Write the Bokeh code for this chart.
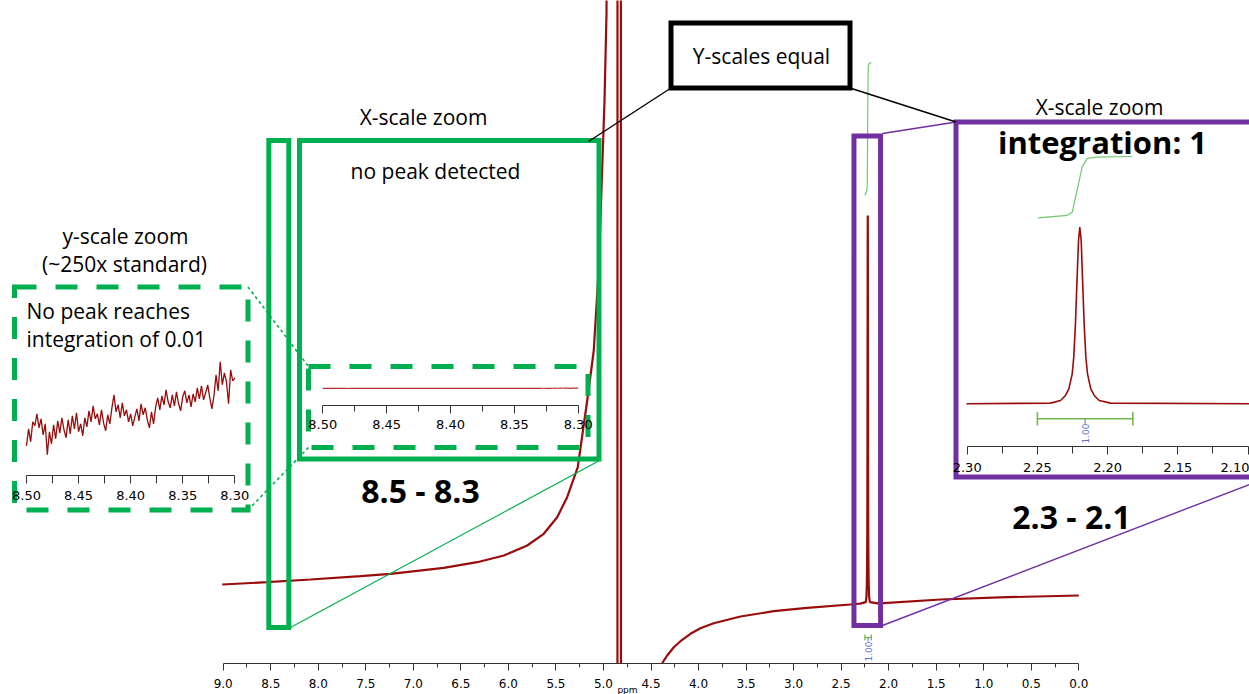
import numpy as np
from bokeh.plotting import figure
from bokeh.models import Range1d, LinearAxis, FixedTicker, PrintfTickFormatter
from bokeh.core.properties import value
from bokeh.embed import file_html
from bokeh.resources import INLINE

# ---------------- data ----------------
main_ticks = [9.0, 8.5, 8.0, 7.5, 7.0, 6.5, 6.0, 5.5, 5.0, 4.5, 4.0, 3.5, 3.0, 2.5, 2.0, 1.5, 1.0, 0.5, 0.0]
main_minor = [8.75, 8.25, 7.75, 7.25, 6.75, 6.25, 5.75, 5.25, 4.75, 4.25, 3.75, 3.25, 2.75, 2.25, 1.75, 1.25, 0.75, 0.25]
zoom_ticks = [8.50, 8.45, 8.40, 8.35, 8.30]
zoom_minor = [8.475, 8.425, 8.375, 8.325]
peak_ticks = [2.30, 2.25, 2.20, 2.15, 2.10]
peak_minor = [2.275, 2.225, 2.175, 2.125]

# main 1H spectrum (ppm, intensity relative to the 2.22 ppm singlet)
tail_left_ppm = [9.0105, 8.537, 8.082, 7.556, 7.240, 6.680, 6.328, 6.048, 5.802, 5.628,
                 5.487, 5.382, 5.270, 5.171, 5.102, 5.049, 5.013, 4.989, 4.968, 4.950]
tail_left_int = [0.0412, 0.0472, 0.0541, 0.0626, 0.0688, 0.0843, 0.0987, 0.1160, 0.1418, 0.1719,
                 0.2147, 0.2662, 0.3436, 0.5155, 0.6443, 0.8590, 1.1168, 1.2887, 1.5129, 3.0]
hdo_ppm = [4.853, 4.852, 4.817, 4.816]
hdo_int = [-0.1616, 3.0, 3.0, -0.1616]
tail_right_ppm = [4.382, 4.330, 4.260, 4.190, 4.085, 3.980, 3.840, 3.559, 3.209, 2.857, 2.405]
tail_right_int = [-0.1616, -0.1418, -0.1204, -0.1049, -0.0858, -0.0714, -0.0585, -0.0412, -0.0276, -0.0188, -0.0103]
peak_base = -0.008
peak_ppm = [2.3005, 2.2407, 2.2335, 2.2300, 2.2276, 2.2252, 2.2241, 2.2229, 2.2217, 2.2207, 2.2198,
            2.2188, 2.2179, 2.2167, 2.2155, 2.2143, 2.2120, 2.2095, 2.2060, 2.1979, 2.0989]
peak_val = [0.0, 0.0038, 0.0189, 0.0472, 0.0849, 0.1698, 0.2642, 0.4528, 0.7170, 0.9245, 1.0,
            0.9245, 0.7170, 0.4528, 0.2642, 0.1698, 0.0849, 0.0472, 0.0189, 0.0038, 0.0]
upfield_ppm = [2.051, 1.455, 0.753, 0.0]
upfield_int = [-0.0070, 0.0026, 0.0085, 0.0129]

# integral of the 2.22 ppm singlet
integral_ppm = [2.2497, 2.2288, 2.2252, 2.2217, 2.2181, 2.2145, 2.2074, 2.1825]
integral_val = [0.0, 0.04, 0.09, 0.45, 0.83, 0.97, 0.99, 1.0]
integration_range = [2.250, 2.182]
integration_value = 1.00

# 8.50 - 8.30 ppm noise (units of 1e-4 of the singlet height)
noise_base = 0.0485
noise_val = [0.8, 2.5, 1.2, 3.2, 2.8, 4.0, 2.6, 3.5, 1.9, 3.0,
             -0.1, 2.2, 1.0, 2.9, 1.5, 3.3, 2.1, 3.6, 2.4, 1.6,
             3.4, 2.0, 3.8, 2.5, 4.1, 2.2, 3.0, 1.8, 3.6, 2.7,
             4.3, 3.2, 4.8, 3.5, 4.0, 2.9, 4.4, 3.1, 2.3, 3.9,
             3.0, 4.6, 5.9, 4.2, 4.9, 3.6, 5.1, 3.8, 4.4, 3.2,
             4.0, 2.8, 3.7, 4.5, 3.3, 5.0, 3.9, 4.6, 3.4, 2.6,
             4.2, 3.0, 4.7, 5.6, 4.4, 5.8, 4.9, 6.4, 5.2, 4.6,
             5.9, 4.8, 6.2, 5.0, 4.3, 5.7, 6.3, 5.1, 5.9, 4.7,
             6.0, 5.2, 6.6, 5.5, 6.8, 5.4, 6.1, 6.9, 5.6, 4.5,
             5.8, 7.9, 6.3, 9.2, 6.9, 8.1, 7.2, 5.0, 8.4, 7.3, 7.6]
noise_ppm = [round(8.50 - 0.002 * i, 3) for i in range(len(noise_val))]

green_window = [8.52, 8.31]
purple_window = [2.365, 2.085]

# ---------------- layout helpers ----------------
W, H = 1249, 694
FX0, FX1 = 0.0, float(W)
FY0, FY1 = 0.0, float(H)


def span(va, pa, vb, pb, lo, hi):
    k = (vb - va) / (pb - pa)
    return va + k * (lo - pa), va + k * (hi - pa)


def xr(va, pa, vb, pb):
    s, e = span(va, pa, vb, pb, FX0, FX1)
    return Range1d(start=s, end=e)


def yr(va, pa, vb, pb):
    s, e = span(va, pa, vb, pb, FY1, FY0)
    return Range1d(start=s, end=e)


KX = (0.0 - 9.0) / (1078.3 - 222.7)


def X(px):
    return 9.0 + KX * (px - 222.7)


def Y(py):
    return (600.0 - py) / 388.0


RED = "#990c0c"
GREEN = "#00b050"
PURPLE = "#7030a0"
INTG = "#6fc86f"
BAR = "#74b84c"
BLUE = "#5a6fd0"
FONT = "Open Sans"

p = figure(width=W, height=H, x_range=xr(9.0, 222.7, 0.0, 1078.3), y_range=yr(0.0, 600.0, 1.0, 212.0),
           x_axis_type=None, y_axis_type=None, toolbar_location=None, output_backend="svg",
           min_border=0, outline_line_color=None)
p.background_fill_color = "white"
p.border_fill_color = "white"

p.extra_x_ranges = {
    "lx": xr(8.50, 26.0, 8.30, 234.3),
    "mx": xr(8.50, 322.3, 8.30, 577.7),
    "px": xr(2.30, 966.7, 2.10, 1247.5),
}
p.extra_y_ranges = {
    "ly": yr(0.0, 453.3, 1.0, 443.3),
    "my": yr(noise_base, 388.0, noise_base + 1.0, 0.0),
    "py": yr(0.0, 403.3, 1.0, 226.7),
    "piy": yr(0.0, 217.3, 1.0, 156.0),
    "miy": yr(0.0, 195.0, 1.0, 62.0),
}

# ---------------- main spectrum ----------------
nan = float("nan")
main_ppm = np.array(tail_left_ppm + [nan] + hdo_ppm + [nan] + tail_right_ppm + peak_ppm + upfield_ppm, dtype=float)
main_int = np.array(tail_left_int + [nan] + hdo_int + [nan] + tail_right_int
                    + [peak_base + v for v in peak_val] + upfield_int, dtype=float)
p.line(main_ppm, main_int, line_color=RED, line_width=2.2)

# main integral + integration bar
p.line(integral_ppm, integral_val, y_range_name="miy", line_color=INTG, line_width=1.2)
mid_int = sum(integration_range) / 2
yb = Y(637)
p.segment(x0=[integration_range[0], integration_range[0], integration_range[1]],
          y0=[yb, Y(634), Y(634)],
          x1=[integration_range[1], integration_range[0], integration_range[1]],
          y1=[yb, Y(640), Y(640)], line_color=BAR, line_width=1.3)
p.segment(x0=[mid_int], y0=[yb], x1=[mid_int], y1=[Y(641)], line_color=BLUE, line_width=1)
p.text(x=[mid_int], y=[Y(651)], text=["%.2f" % integration_value], angle=np.pi / 2,
       text_font=value("DejaVu Sans"), text_font_size="9px", text_color=BLUE,
       text_align="center", text_baseline="middle")

# ---------------- insets ----------------
# left: y-scale zoom of 8.50-8.30
p.line(noise_ppm, noise_val, x_range_name="lx", y_range_name="ly", line_color=RED, line_width=1.3)
# middle: x-scale zoom, same y-scale as the main spectrum
p.line(noise_ppm, [noise_base + v * 1e-4 for v in noise_val], x_range_name="mx", y_range_name="my",
       line_color="#b83232", line_width=1.2)
# right: x-scale zoom of 2.30-2.10
p.line(peak_ppm, peak_val, x_range_name="px", y_range_name="py", line_color=RED, line_width=1.6)
p.line(integral_ppm, integral_val, x_range_name="px", y_range_name="piy", line_color=INTG, line_width=1.2)
yb2 = Y(418.3)
p.segment(x0=[integration_range[0], integration_range[0], integration_range[1]],
          y0=[yb2, Y(411.5), Y(411.5)],
          x1=[integration_range[1], integration_range[0], integration_range[1]],
          y1=[yb2, Y(425), Y(425)], x_range_name="px", line_color=BAR, line_width=1.6)
p.segment(x0=[mid_int], y0=[yb2], x1=[mid_int], y1=[Y(424)], x_range_name="px", line_color=BLUE, line_width=1)
p.text(x=[mid_int], y=[Y(433)], text=["%.2f" % integration_value], angle=np.pi / 2, x_range_name="px",
       text_font=value("DejaVu Sans"), text_font_size="9px", text_color=BLUE,
       text_align="center", text_baseline="middle")

# ---------------- boxes ----------------
def box(l, r, t, b, color, dash="solid"):
    p.quad(left=[l], right=[r], top=[t], bottom=[b], fill_color=None, line_color=color,
           line_width=5, line_dash=dash, line_join="miter")


box(green_window[0], green_window[1], Y(140), Y(627), GREEN)
box(X(299), X(598.5), Y(140), Y(458.5), GREEN)
box(X(308), X(587.5), Y(366), Y(447), GREEN, "22 19")
box(X(14), X(247.5), Y(286.5), Y(509.5), GREEN, "22 19")
box(purple_window[0], purple_window[1], Y(135.5), Y(625), PURPLE)
box(X(955.5), X(1256), Y(121.5), Y(476.5), PURPLE)
box(X(670.5), X(849.5), Y(22.5), Y(87.5), "black")

# connector lines
p.segment(x0=[X(290)], y0=[Y(627)], x1=[X(599)], y1=[Y(460)], line_color=GREEN, line_width=1.2)
p.segment(x0=[X(247.5), X(247.5)], y0=[Y(286.5), Y(509.5)], x1=[X(308), X(308)], y1=[Y(366), Y(447)],
          line_color=GREEN, line_width=1.6, line_dash="3 3")
p.segment(x0=[X(882), X(882)], y0=[Y(133), Y(625)], x1=[X(955.5), X(1249)], y1=[Y(121.5), Y(484)],
          line_color=PURPLE, line_width=1.4)
p.segment(x0=[X(588), X(849.5)], y0=[Y(141), Y(87.5)], x1=[X(670.5), X(955.5)], y1=[Y(87.5), Y(121.5)],
          line_color="black", line_width=1.4)

# ---------------- axes ----------------
def make_axis(xname, loc_py, bounds, ticks, minor, fmt, size, standoff, tout, mout):
    ax = LinearAxis(x_range_name=xname, fixed_location=Y(loc_py), bounds=bounds,
                    ticker=FixedTicker(ticks=ticks, minor_ticks=minor),
                    formatter=PrintfTickFormatter(format=fmt))
    ax.major_tick_in = 0
    ax.major_tick_out = tout
    ax.minor_tick_in = 0
    ax.minor_tick_out = mout
    ax.axis_line_color = "#333333"
    ax.major_tick_line_color = "#333333"
    ax.minor_tick_line_color = "#333333"
    ax.axis_line_width = 1.2
    ax.major_label_text_font = "DejaVu Sans"
    ax.major_label_text_font_size = size
    ax.major_label_text_color = "black"
    ax.major_label_standoff = standoff
    p.add_layout(ax, "below")
    return ax


make_axis("default", 662.7, (0.0, 9.0), main_ticks, main_minor, "%.1f", "12px", 9, 7, 4)
make_axis("mx", 405.0, (8.30, 8.50), zoom_ticks, zoom_minor, "%.2f", "13px", 6, 8, 6)
make_axis("lx", 475.0, (8.30, 8.50), zoom_ticks, zoom_minor, "%.2f", "13px", 7, 8, 8)
make_axis("px", 446.0, (2.10, 2.30), peak_ticks, peak_minor, "%.2f", "13px", 8, 8, 7)

# ---------------- texts ----------------
def txt(px, py, s, size="21px", style="normal", align="center", font=FONT):
    p.text(x=[X(px)], y=[Y(py)], text=[s], text_font=value(font), text_font_size=size,
           text_font_style=style, text_color="black", text_align=align, text_baseline="middle")


txt(761, 55, "Y-scales equal")
txt(423, 116, "X-scale zoom")
txt(435, 170, "no peak detected")
txt(125, 235, "y-scale zoom")
txt(124, 263, "(~250x standard)")
txt(26, 310, "No peak reaches", align="left")
txt(26, 338, "integration of 0.01", align="left")
txt(420, 490, "8.5 - 8.3", size="32px", style="bold")
txt(1071, 516, "2.3 - 2.1", size="32px", style="bold")
txt(1099, 106, "X-scale zoom")
txt(1102, 141, "integration: 1", size="31px", style="bold")
txt(627, 689, "ppm", size="9px", font="DejaVu Sans")

open("out.html", "w").write(file_html(p, INLINE))
